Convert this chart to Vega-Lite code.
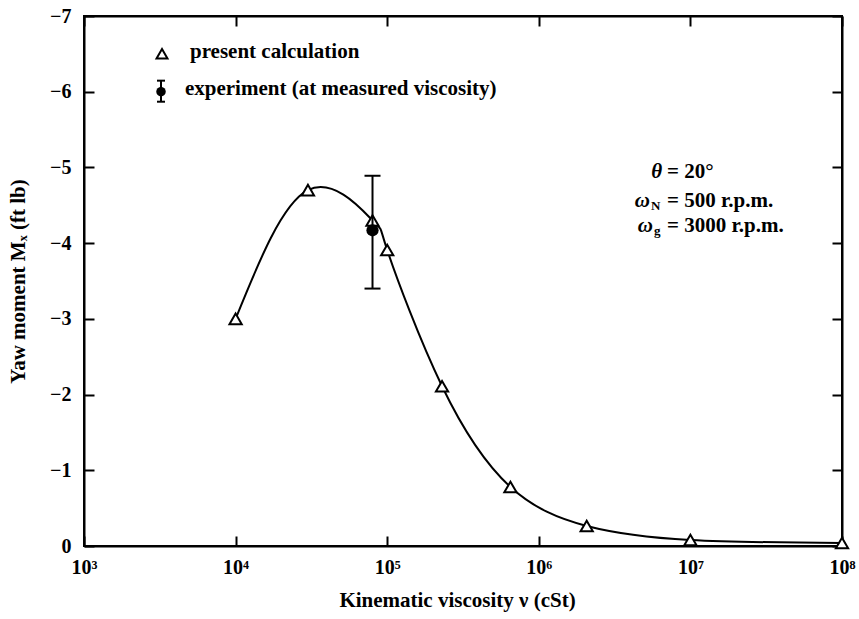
{
  "$schema": "https://vega.github.io/schema/vega-lite/v6.json",
  "width": 758,
  "height": 530,
  "autosize": {"type": "none"},
  "padding": {"left": 84, "top": 16, "right": 17, "bottom": 73},
  "background": "white",
  "config": {
    "view": {"stroke": "black", "strokeWidth": 2},
    "font": "Liberation Serif",
    "axis": {
      "grid": false,
      "domainColor": "black",
      "domainWidth": 2,
      "tickColor": "black",
      "tickWidth": 2,
      "tickSize": -10,
      "labelFlush": false,
      "labelColor": "black",
      "labelFont": "Liberation Serif",
      "labelFontSize": 20,
      "labelFontWeight": "bold",
      "titleColor": "black",
      "titleFont": "Liberation Serif",
      "titleFontSize": 21,
      "titleFontWeight": "bold"
    },
    "text": {"font": "Liberation Serif", "fontSize": 21, "fontWeight": "bold", "color": "black", "baseline": "middle"}
  },
  "datasets": {
    "calc": [
      {"nu": 10000, "m": -3.0},
      {"nu": 30000, "m": -4.7},
      {"nu": 80000, "m": -4.3},
      {"nu": 100000, "m": -3.91},
      {"nu": 230000, "m": -2.11},
      {"nu": 650000, "m": -0.78},
      {"nu": 2070000, "m": -0.265},
      {"nu": 10000000, "m": -0.08},
      {"nu": 100000000, "m": -0.04}
    ],
    "exp": [
      {"nu": 80000, "m": -4.17, "lo": -3.4, "hi": -4.89}
    ],
    "legtri": [
      {"nu": 3270, "m": -6.5}
    ],
    "legbar": [
      {"nu": 3221, "m": -6.0, "lo": -5.868, "hi": -6.146}
    ],
    "legtext": [
      {"nu": 5000, "m": -6.52, "label": "present calculation"},
      {"nu": 4634, "m": -6.03, "label": "experiment (at measured viscosity)"}
    ],
    "sym": [
      {"nu": 6500000, "m": -4.94, "label": "θ"},
      {"nu": 5410000, "m": -4.56, "label": "ω"},
      {"nu": 5660000, "m": -4.23, "label": "ω"}
    ],
    "sub": [
      {"nu": 5500000, "m": -4.49, "label": "N"},
      {"nu": 5750000, "m": -4.16, "label": "g"}
    ],
    "eq": [
      {"nu": 7010000, "m": -4.94, "label": "= 20°"},
      {"nu": 7010000, "m": -4.56, "label": "= 500 r.p.m."},
      {"nu": 7010000, "m": -4.23, "label": "= 3000 r.p.m."}
    ]
  },
  "layer": [
    {
      "data": {"name": "calc"},
      "mark": {"type": "line", "interpolate": "natural", "color": "black", "strokeWidth": 2},
      "encoding": {
        "x": {
          "field": "nu", "type": "quantitative",
          "scale": {"type": "log", "domain": [1000, 100000000], "nice": false},
          "axis": {
            "orient": "bottom",
            "values": [1000, 10000, 100000, 1000000, 10000000, 100000000],
            "labelExpr": "'10' + substring('⁰¹²³⁴⁵⁶⁷⁸⁹', round(log(datum.value)/LN10), round(log(datum.value)/LN10) + 1)",
            "labelPadding": 21,
            "title": "Kinematic viscosity ν (cSt)",
            "titleX": 373,
            "titleY": 54,
            "titleBaseline": "middle"
          }
        },
        "y": {
          "field": "m", "type": "quantitative",
          "scale": {"domain": [0, -7], "nice": false, "zero": false},
          "axis": {
            "orient": "left",
            "values": [0, -1, -2, -3, -4, -5, -6, -7],
            "labelPadding": 23,
            "title": "Yaw moment Mₓ (ft lb)",
            "titleX": -66,
            "titleY": 265,
            "titleBaseline": "middle"
          }
        }
      }
    },
    {
      "data": {"name": "calc"},
      "mark": {"type": "point", "shape": "triangle-up", "size": 150, "fill": "white", "stroke": "black", "strokeWidth": 2, "opacity": 1},
      "encoding": {
        "x": {"field": "nu", "type": "quantitative", "axis": {"orient": "top", "labels": false, "title": null, "values": [1000, 10000, 100000, 1000000, 10000000, 100000000]}},
        "y": {"field": "m", "type": "quantitative", "axis": {"orient": "right", "labels": false, "title": null, "values": [0, -1, -2, -3, -4, -5, -6, -7]}}
      }
    },
    {
      "data": {"name": "exp"},
      "mark": {"type": "rule", "color": "black", "strokeWidth": 2},
      "encoding": {
        "x": {"field": "nu", "type": "quantitative", "axis": null},
        "y": {"field": "lo", "type": "quantitative", "axis": null},
        "y2": {"field": "hi"}
      }
    },
    {
      "data": {"name": "exp"},
      "mark": {"type": "point", "shape": "stroke", "size": 256, "stroke": "black", "strokeWidth": 2, "opacity": 1},
      "encoding": {
        "x": {"field": "nu", "type": "quantitative", "axis": null},
        "y": {"field": "lo", "type": "quantitative", "axis": null}
      }
    },
    {
      "data": {"name": "exp"},
      "mark": {"type": "point", "shape": "stroke", "size": 256, "stroke": "black", "strokeWidth": 2, "opacity": 1},
      "encoding": {
        "x": {"field": "nu", "type": "quantitative", "axis": null},
        "y": {"field": "hi", "type": "quantitative", "axis": null}
      }
    },
    {
      "data": {"name": "exp"},
      "mark": {"type": "circle", "size": 150, "color": "black", "opacity": 1},
      "encoding": {
        "x": {"field": "nu", "type": "quantitative", "axis": null},
        "y": {"field": "m", "type": "quantitative", "axis": null}
      }
    },
    {
      "data": {"name": "legtri"},
      "mark": {"type": "point", "shape": "triangle-up", "size": 120, "fill": "white", "stroke": "black", "strokeWidth": 2, "opacity": 1},
      "encoding": {
        "x": {"field": "nu", "type": "quantitative", "axis": null},
        "y": {"field": "m", "type": "quantitative", "axis": null}
      }
    },
    {
      "data": {"name": "legbar"},
      "mark": {"type": "rule", "color": "black", "strokeWidth": 2},
      "encoding": {
        "x": {"field": "nu", "type": "quantitative", "axis": null},
        "y": {"field": "lo", "type": "quantitative", "axis": null},
        "y2": {"field": "hi"}
      }
    },
    {
      "data": {"name": "legbar"},
      "mark": {"type": "point", "shape": "stroke", "size": 64, "stroke": "black", "strokeWidth": 2, "opacity": 1},
      "encoding": {
        "x": {"field": "nu", "type": "quantitative", "axis": null},
        "y": {"field": "lo", "type": "quantitative", "axis": null}
      }
    },
    {
      "data": {"name": "legbar"},
      "mark": {"type": "point", "shape": "stroke", "size": 64, "stroke": "black", "strokeWidth": 2, "opacity": 1},
      "encoding": {
        "x": {"field": "nu", "type": "quantitative", "axis": null},
        "y": {"field": "hi", "type": "quantitative", "axis": null}
      }
    },
    {
      "data": {"name": "legbar"},
      "mark": {"type": "circle", "size": 90, "color": "black", "opacity": 1},
      "encoding": {
        "x": {"field": "nu", "type": "quantitative", "axis": null},
        "y": {"field": "m", "type": "quantitative", "axis": null}
      }
    },
    {
      "data": {"name": "legtext"},
      "mark": {"type": "text", "align": "left"},
      "encoding": {
        "x": {"field": "nu", "type": "quantitative", "axis": null},
        "y": {"field": "m", "type": "quantitative", "axis": null},
        "text": {"field": "label"}
      }
    },
    {
      "data": {"name": "sym"},
      "mark": {"type": "text", "align": "right", "fontStyle": "italic"},
      "encoding": {
        "x": {"field": "nu", "type": "quantitative", "axis": null},
        "y": {"field": "m", "type": "quantitative", "axis": null},
        "text": {"field": "label"}
      }
    },
    {
      "data": {"name": "sub"},
      "mark": {"type": "text", "align": "left", "fontSize": 13},
      "encoding": {
        "x": {"field": "nu", "type": "quantitative", "axis": null},
        "y": {"field": "m", "type": "quantitative", "axis": null},
        "text": {"field": "label"}
      }
    },
    {
      "data": {"name": "eq"},
      "mark": {"type": "text", "align": "left"},
      "encoding": {
        "x": {"field": "nu", "type": "quantitative", "axis": null},
        "y": {"field": "m", "type": "quantitative", "axis": null},
        "text": {"field": "label"}
      }
    }
  ],
  "resolve": {"axis": {"x": "independent", "y": "independent"}}
}
